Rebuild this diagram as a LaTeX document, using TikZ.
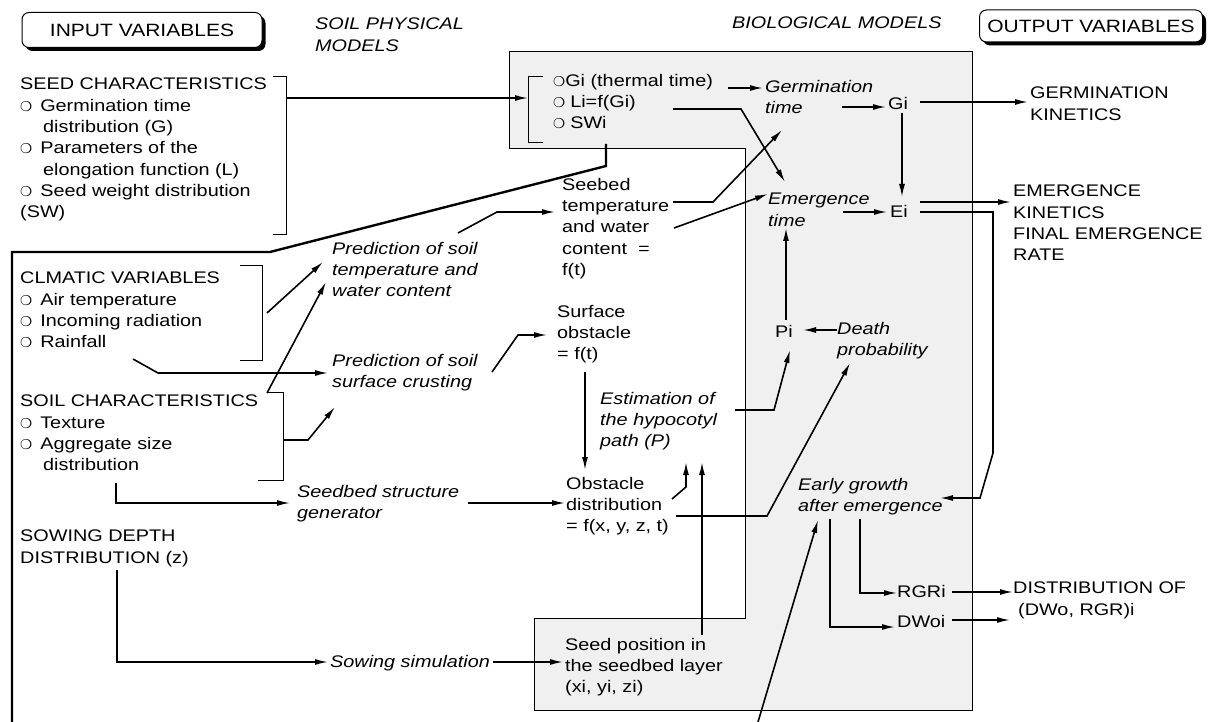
\documentclass[tikz,border=0pt]{standalone}
\usepackage{fontspec}
\setmainfont{Liberation Sans}[FakeStretch=1.18]
\newfontfamily\bulfont{DejaVu Sans}
\usetikzlibrary{arrows.meta,shadows}
\newcommand\bul{{\bulfont\fontsize{13.5}{13.5}\selectfont ❍}}
\newcommand\ind{\hspace*{23pt}}
\begin{document}
\begin{tikzpicture}[x=1pt,y=-1pt,
 txt/.style={inner sep=0pt, anchor=north west, align=left, font=\fontsize{16.8}{21.3}\selectfont},
 itx/.style={txt, font=\fontsize{16.8}{21.3}\selectfont\itshape},
 arr/.style={line width=1.6pt, -{Latex[length=13pt,width=6pt]}},
 ln/.style={line width=1.6pt},
 frame/.style={line width=2.4pt},
 brk/.style={line width=0.9pt},
 title/.style={draw, line width=1pt, rounded corners=7pt, fill=white,
   drop shadow={shadow xshift=3.5pt, shadow yshift=-3.5pt, fill=black, opacity=1},
   font=\fontsize{17.8}{20}\selectfont, inner sep=0pt}
]
\useasboundingbox (0,0) rectangle (1211,722);
% grey region of the biological models
\draw[fill=black!6, line width=0.9pt] (509,51) -- (972,51) -- (972,710) -- (534,710) -- (534,618) -- (745,618) -- (745,148) -- (509,148) -- cycle;

% titles
\node[title, minimum width=240pt, minimum height=35pt] (inp) at (142,30) {INPUT VARIABLES};
\node[title, minimum width=223pt, minimum height=32pt] (outp) at (1091,26) {OUTPUT VARIABLES};
\node[itx] (spm) at (315,18) {SOIL PHYSICAL\\MODELS};
\node[itx] (bio) at (732,17) {BIOLOGICAL MODELS};

% input texts
\node[txt] (seed) at (20,78) {SEED CHARACTERISTICS\\\bul\hspace{8pt}Germination time\\\ind distribution (G)\\\bul\hspace{8pt}Parameters of the\\\ind elongation function (L)\\\bul\hspace{8pt}Seed weight distribution\\(SW)};
\node[txt] (clim) at (20,272) {CLMATIC VARIABLES\\\bul\hspace{8pt}Air temperature\\\bul\hspace{8pt}Incoming radiation\\\bul\hspace{8pt}Rainfall};
\node[txt] (soil) at (20,395) {SOIL CHARACTERISTICS\\\bul\hspace{8pt}Texture\\\bul\hspace{8pt}Aggregate size\\\ind distribution};
\node[txt] (sow) at (20,530) {SOWING DEPTH\\DISTRIBUTION (z)};

% brackets
\draw[brk] (273,76) -- (286,76) -- (286,234) -- (273,234);
\draw[brk] (240,265) -- (262,265) -- (262,360) -- (240,360);
\draw[brk] (267,392) -- (283,392) -- (283,480) -- (258,480);
\draw[brk] (543,76) -- (528,76) -- (528,142) -- (543,142);

% model texts
\node[txt] (gil) at (553,74) {\bul Gi (thermal time)\\\bul\hspace{5pt}Li=f(Gi)\\\bul\hspace{5pt}SWi};
\node[itx] (germ) at (765,80) {Germination\\time};
\node[itx] (emer) at (768,193) {Emergence\\time};
\node[txt] (seebed) at (562,178) {Seebed\\temperature\\and water\\content~~=\\f(t)};
\node[itx] (ptemp) at (332,242) {Prediction of soil\\temperature and\\water content};
\node[itx] (pcrust) at (332,354) {Prediction of soil\\surface crusting};
\node[txt] (surf) at (557,305) {Surface\\obstacle\\= f(t)};
\node[itx] (estim) at (600,392) {Estimation of\\the hypocotyl\\path (P)};
\node[txt] (obst) at (566,477) {Obstacle\\distribution\\= f(x, y, z, t)};
\node[itx] (sgen) at (297,485) {Seedbed structure\\generator};
\node[itx] (sowsim) at (330,655) {Sowing simulation};
\node[txt] (spos) at (565,638) {Seed position in\\the seedbed layer\\(xi, yi, zi)};
\node[txt] (gi) at (888,97) {Gi};
\node[txt] (ei) at (890,205) {Ei};
\node[txt] (pi) at (775,325) {Pi};
\node[itx] (death) at (837,322) {Death\\probability};
\node[itx] (early) at (798,478) {Early growth\\after emergence};
\node[txt] (rgr) at (897,585) {RGRi};
\node[txt] (dwo) at (897,615) {DWoi};
\node[txt] (gk) at (1030,87) {GERMINATION\\KINETICS};
\node[txt] (ek) at (1013,185) {EMERGENCE\\KINETICS\\FINAL EMERGENCE\\RATE};
\node[txt] (dist) at (1013,582) {DISTRIBUTION OF\\\hspace*{5pt}(DWo, RGR)i};

% free ends
\coordinate (lostA) at (12,722);
\coordinate (lostB) at (758,722);

% connectors
\draw[arr] (286,98) -- (528,98);
\draw[arr] (728,88) -- (763,88);
\draw[arr] (673,109) -- (741,109) -- (785,182);
\draw[frame] (606,144) -- (606,166) -- (270,252) -- (12,252) -- (lostA);
\draw[arr] (673,202) -- (713,202) -- (782,130);
\draw[arr] (674,228) -- (768,194);
\draw[arr] (458,233) -- (497,212) -- (555,212);
\draw[arr] (842,107) -- (886,107);
\draw[arr] (920,102) -- (1028,102);
\draw[arr] (902,113) -- (902,197);
\draw[arr] (843,212) -- (887,212);
\draw[arr] (920,202) -- (1011,202);
\draw[arr] (920,212) -- (993,212) -- (993,453) -- (980,498) -- (940,498);
\draw[arr] (786,320) -- (786,228);
\draw[arr] (837,330) -- (803,330);
\draw[arr] (735,410) -- (774,410) -- (790,350);
\draw[arr] (676,516) -- (767,516) -- (850,363);
\draw[arr] (672,499) -- (686,487) -- (686,462);
\draw[arr] (702,635) -- (702,462);
\draw[arr] (468,503) -- (565,503);
\draw[arr] (493,662) -- (563,662);
\draw[arr] (117,570) -- (117,662) -- (328,662);
\draw[arr] (116,483) -- (116,503) -- (290,503);
\draw[arr] (267,313) -- (323,262);
\draw[arr] (267,393) -- (326,282);
\draw[arr] (133,359) -- (158,373) -- (328,373);
\draw[arr] (283,440) -- (308,440) -- (335,407);
\draw[arr] (492,372) -- (518,335) -- (547,335);
\draw[arr] (585,372) -- (585,470);
\draw[arr] (lostB) -- (818,520);
\draw[arr] (860,519) -- (860,593) -- (897,593);
\draw[arr] (830,519) -- (830,627) -- (895,627);
\draw[arr] (952,592) -- (1013,592);
\draw[arr] (952,620) -- (1010,620);
\end{tikzpicture}
\end{document}
